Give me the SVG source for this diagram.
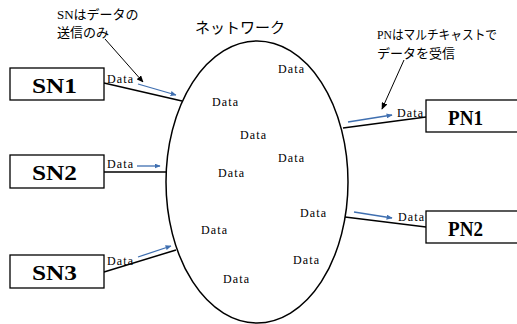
<svg xmlns="http://www.w3.org/2000/svg" width="517" height="324" viewBox="0 0 517 324">
<style>
.box{fill:#fff;stroke:#000;stroke-width:1.3}
.lbl{font-family:"Liberation Serif",serif;font-weight:bold;font-size:22px;fill:#000}
.d{font-family:"Liberation Serif",serif;font-size:12px;letter-spacing:1.1px;fill:#000}
.jp{font-family:"Liberation Serif","Noto Sans CJK JP",sans-serif;font-size:13px;fill:#000}
.ln{stroke:#000;stroke-width:1.5;fill:none}
.bl{stroke:#3f6fb0;stroke-width:1.3;fill:none;marker-end:url(#ab)}
.ba{stroke:#000;stroke-width:1;fill:none;marker-end:url(#ak)}
</style>
<defs>
<marker id="ab" viewBox="0 0 10 10" refX="9" refY="5" markerWidth="6" markerHeight="5" markerUnits="userSpaceOnUse" orient="auto" preserveAspectRatio="none">
<path d="M0,0 L10,5 L0,10 z" fill="#3f6fb0"/>
</marker>
<marker id="ak" viewBox="0 0 10 10" refX="9" refY="5" markerWidth="7" markerHeight="6" markerUnits="userSpaceOnUse" orient="auto" preserveAspectRatio="none">
<path d="M0,0 L10,5 L0,10 z" fill="#000"/>
</marker>
</defs>
<g id="network">
<ellipse cx="257" cy="182" rx="91" ry="141" fill="#fff" stroke="#000" stroke-width="1.5"/>
<text x="195" y="33" font-family="'Noto Sans CJK JP',sans-serif" font-size="15">ネットワーク</text>
<text class="d" x="278" y="73">Data</text>
<text class="d" x="212" y="106">Data</text>
<text class="d" x="240" y="139">Data</text>
<text class="d" x="278" y="162">Data</text>
<text class="d" x="218" y="177">Data</text>
<text class="d" x="300" y="217">Data</text>
<text class="d" x="201" y="234">Data</text>
<text class="d" x="293" y="264">Data</text>
<text class="d" x="223" y="283">Data</text>
</g>
<g id="connectors">
<line class="ln" x1="104" y1="83" x2="182" y2="101"/>
<line class="ln" x1="104" y1="172" x2="166" y2="172"/>
<line class="ln" x1="104" y1="272" x2="176" y2="250"/>
<line class="ln" x1="343" y1="128" x2="426" y2="117"/>
<line class="ln" x1="345" y1="217" x2="426" y2="227"/>
<line class="bl" x1="138" y1="84" x2="176" y2="95"/>
<line class="bl" x1="137" y1="166" x2="160" y2="166"/>
<line class="bl" x1="138" y1="257" x2="171" y2="246"/>
<line class="bl" x1="348" y1="122" x2="392" y2="115"/>
<line class="bl" x1="354" y1="212" x2="392" y2="218"/>
<line class="ba" x1="105" y1="39" x2="143" y2="82"/>
<line class="ba" x1="404" y1="60" x2="382" y2="109"/>
<text class="d" x="107" y="83">Data</text>
<text class="d" x="107" y="168">Data</text>
<text class="d" x="107" y="265">Data</text>
<text class="d" x="397" y="117">Data</text>
<text class="d" x="398" y="221">Data</text>
</g>
<g id="sn-note">
<text class="jp" x="57" y="19">SNはデータの</text>
<text class="jp" x="57" y="37">送信のみ</text>
</g>
<g id="pn-note">
<text class="jp" x="377" y="39" textLength="120" lengthAdjust="spacingAndGlyphs">PNはマルチキャストで</text>
<text class="jp" x="377" y="58">データを受信</text>
</g>
<g id="SN1">
<rect class="box" x="10" y="68" width="94" height="32"/>
<text class="lbl" x="32" y="93" textLength="45" lengthAdjust="spacingAndGlyphs">SN1</text>
</g>
<g id="SN2">
<rect class="box" x="10" y="155" width="94" height="33"/>
<text class="lbl" x="32" y="180" textLength="45" lengthAdjust="spacingAndGlyphs">SN2</text>
</g>
<g id="SN3">
<rect class="box" x="10" y="255" width="94" height="33"/>
<text class="lbl" x="32" y="280" textLength="45" lengthAdjust="spacingAndGlyphs">SN3</text>
</g>
<g id="PN1">
<rect class="box" x="426" y="100" width="100" height="32"/>
<text class="lbl" x="448" y="125" textLength="35" lengthAdjust="spacingAndGlyphs">PN1</text>
</g>
<g id="PN2">
<rect class="box" x="426" y="211" width="100" height="32"/>
<text class="lbl" x="448" y="236" textLength="35" lengthAdjust="spacingAndGlyphs">PN2</text>
</g>
</svg>
